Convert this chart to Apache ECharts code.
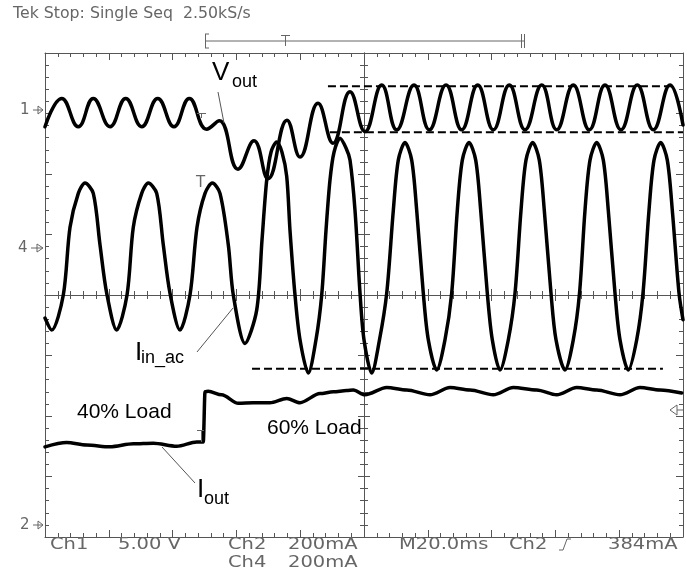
<!DOCTYPE html>
<html>
<head>
<meta charset="utf-8">
<script src="https://cdn.jsdelivr.net/npm/echarts@6/dist/echarts.min.js"></script>
<style>
  html, body { margin: 0; padding: 0; background: #fff; }
  #scope { width: 687px; height: 569px; }
</style>
</head>
<body>
<div id="scope"></div>
<script>
// Screen: 10 horizontal divisions at 20 ms/div, 8 vertical divisions (values in divisions, 0 = centre line)
const timeMin = 0, timeMax = 200, timeStep = 20;
const divMin = -4, divMax = 4;

// Ch1: output voltage ripple (Vout)
const voutTime = [0, 5.24, 10.44, 15.14, 20.38, 25.30, 30.31, 35.33, 40.44, 45.24, 50.69, 54.64,
  60.50, 65.52, 69.91, 75.86, 79.94, 85.58, 90.28, 95.61, 100.31, 105.55, 110.25, 115.68, 120.47,
  125.71, 130.63, 135.64, 140.53, 145.55, 150.47, 155.71, 160.41, 165.61, 170.63, 175.55, 180.56,
  185.67, 190.69, 195.92, 200];
const voutDiv = [2.78, 3.25, 2.78, 3.25, 2.78, 3.25, 2.78, 3.25, 2.78, 3.25, 2.74, 2.88,
  2.08, 2.55, 1.92, 2.89, 2.28, 3.17, 2.51, 3.36, 2.70, 3.47, 2.73, 3.47, 2.73,
  3.47, 2.73, 3.47, 2.73, 3.47, 2.73, 3.47, 2.73, 3.47, 2.73, 3.47, 2.73,
  3.47, 2.73, 3.47, 2.81];

// Ch4: AC input current (Iin_ac)
const iinTime = [0, 2.10, 5.74, 7.84, 10.44, 12.54, 15.14, 17.24, 19.34, 22.48,
  25.71, 27.68, 30.31, 32.38, 35.02, 37.08, 39.18, 42.32,
  45.45, 47.65, 50.16, 52.45, 54.86, 57.46, 59.03, 62.70,
  66.36, 68.03, 69.50, 70.85, 72.63, 74.29, 75.77, 76.80, 78.37, 79.94, 82.54,
  84.95, 86.74, 88.09, 89.34, 90.60, 92.48, 94.36, 95.61, 97.18, 98.75, 100.00, 102.41,
  104.86, 107.12, 109.19, 110.75, 112.85, 114.95, 116.52, 118.59, 120.16, 122.79,
  125.39, 127.49, 129.25, 130.82, 132.92, 135.02, 136.58, 138.65, 140.22, 142.63,
  145.24, 147.34, 149.22, 150.78, 152.88, 154.95, 156.52, 158.62, 160.19, 163.01,
  165.61, 167.56, 169.28, 170.85, 172.95, 175.02, 176.58, 178.68, 180.25, 182.85,
  185.49, 187.46, 189.34, 190.91, 193.01, 195.08, 196.65, 198.75, 200];
const iinDiv = [-0.38, -0.58, 0, 1.12, 1.68, 1.85, 1.68, 0.83, 0.03, -0.58,
  0, 1.12, 1.68, 1.85, 1.68, 0.83, 0.03, -0.58,
  0, 1.12, 1.68, 1.85, 1.68, 0.83, 0, -0.80,
  -0.25, 0.91, 1.90, 2.36, 2.53, 2.36, 1.96, 1.07, 0, -0.74, -1.29,
  -0.74, 0, 1.07, 1.90, 2.36, 2.59, 2.43, 2.23, 1.40, 0.03, -0.74, -1.29,
  -0.74, 0.03, 1.40, 2.23, 2.52, 2.23, 1.40, 0.03, -0.74, -1.24,
  -0.74, 0.03, 1.40, 2.23, 2.52, 2.23, 1.40, 0.03, -0.74, -1.24,
  -0.74, 0.03, 1.40, 2.23, 2.52, 2.23, 1.40, 0.03, -0.74, -1.24,
  -0.74, 0.03, 1.40, 2.23, 2.52, 2.23, 1.40, 0.03, -0.74, -1.24,
  -0.74, 0.03, 1.40, 2.23, 2.52, 2.23, 1.40, 0.03, -0.41];

// Ch2: output current (Iout), 40% -> 60% load step
const ioutTime = [0, 6.80, 13.07, 20.38, 27.68, 33.95, 41.29, 47.56, 49.62, 50.16, 51.19,
  55.39, 60.60, 65.30, 70.53, 75.77, 79.94, 86.21, 90.38, 94.58, 96.65, 100.31,
  107.12, 113.39, 120.69, 126.96, 133.23, 140.53, 146.80, 154.14, 160.41, 166.68,
  172.95, 180.25, 186.52, 192.79, 199.60];
const ioutDiv = [-2.51, -2.44, -2.48, -2.51, -2.46, -2.45, -2.50, -2.43, -2.43, -1.60, -1.59,
  -1.65, -1.79, -1.78, -1.78, -1.71, -1.78, -1.63, -1.60, -1.58, -1.57, -1.65,
  -1.53, -1.57, -1.65, -1.53, -1.57, -1.65, -1.53, -1.57, -1.65, -1.53,
  -1.57, -1.65, -1.53, -1.57, -1.62];

// Cursor (dashed) lines: [start ms, end ms, level in divisions]
const voutMaxCursor = [88.7, 197.5, 3.45];
const voutMinCursor = [89.3, 200, 2.69];
const iinMinCursor = [64.9, 193.7, -1.22];

const pairs = (t, v) => t.map((x, i) => [x, v[i]]);
const cursor = c => [[c[0], c[2]], [c[1], c[2]]];

const GRID = { left: 45, top: 53, width: 638, height: 484 };
const gridGray = '#555';
const uiGray = '#666';

function borderAxis(pos, isX) {
  return {
    type: 'value', gridIndex: 0, position: pos,
    min: isX ? timeMin : divMin, max: isX ? timeMax : divMax, interval: isX ? timeStep : 1,
    axisLine: { show: true, onZero: false, lineStyle: { color: gridGray, width: 1 } },
    axisTick: { show: true, inside: true, length: 7, lineStyle: { color: gridGray, width: 1 } },
    minorTick: { show: true, splitNumber: 5, length: 4, lineStyle: { color: gridGray, width: 1 } },
    axisLabel: { show: false }, splitLine: { show: false }
  };
}
function centreAxis(pos, isX) {
  return {
    type: 'value', gridIndex: 1, position: pos,
    min: isX ? -5 : -4, max: isX ? 5 : 4, interval: 1,
    axisLine: { show: true, onZero: true, lineStyle: { color: gridGray, width: 1 } },
    axisTick: { show: true, inside: true, length: 6, lineStyle: { color: gridGray, width: 1 } },
    minorTick: { show: true, splitNumber: 5, length: 4, lineStyle: { color: gridGray, width: 1 } },
    axisLabel: { show: false }, splitLine: { show: false }
  };
}

const trace = (name, data, smooth, mono) => ({
  name, type: 'line', xAxisIndex: 0, yAxisIndex: 0, data,
  showSymbol: false, smooth, smoothMonotone: mono || null, clip: true,
  lineStyle: { color: '#000', width: 3.5, join: 'round', cap: 'round' }, z: 5, animation: false
});
const dashed = (name, data) => ({
  name, type: 'line', xAxisIndex: 0, yAxisIndex: 0, data,
  showSymbol: false, lineStyle: { color: '#000', width: 2, type: [8, 4] }, z: 4, animation: false
});

// Scope UI text in the thin instrument font
const uiText = (text, x, y, sx) => ({
  type: 'text', x, y, scaleX: sx || 1.3, z: 20,
  style: { text, font: '15px "DejaVu Sans"', fill: uiGray, align: 'left', verticalAlign: 'middle' }
});
const ann = (text, x, y, size) => ({
  type: 'text', x, y, z: 20,
  style: { text, font: size + 'px "Liberation Sans", Arial, sans-serif', fill: '#000', align: 'left', verticalAlign: 'middle' }
});
const seg = (x1, y1, x2, y2, color, w) => ({
  type: 'line', z: 20, shape: { x1, y1, x2, y2 }, style: { stroke: color || uiGray, lineWidth: w || 1 }
});
const poly = (points, color) => ({
  type: 'polyline', z: 20, shape: { points }, style: { stroke: color || uiGray, lineWidth: 1, fill: null }
});

const chart = echarts.init(document.getElementById('scope'), null, { renderer: 'canvas' });
chart.setOption({
  animation: false,
  backgroundColor: '#fff',
  grid: [Object.assign({}, GRID), Object.assign({}, GRID)],
  xAxis: [borderAxis('bottom', true), borderAxis('top', true), centreAxis('bottom', true), centreAxis('top', true)],
  yAxis: [borderAxis('left', false), borderAxis('right', false), centreAxis('left', false), centreAxis('right', false)],
  series: [
    trace('Vout', pairs(voutTime, voutDiv), 0.45),
    trace('Iin_ac', pairs(iinTime, iinDiv), 0.3),
    trace('Iout', pairs(ioutTime, ioutDiv), 0.3, 'x'),
    dashed('Vout max', cursor(voutMaxCursor)),
    dashed('Vout min', cursor(voutMinCursor)),
    dashed('Iin min', cursor(iinMinCursor))
  ],
  graphic: [
    // header
    uiText('Tek Stop: Single Seq  2.50kS/s', 13, 14, 1.05),
    // record-length bracket with trigger position
    seg(205, 41, 524, 41),
    seg(205.5, 34, 205.5, 48), seg(205, 34, 209, 34), seg(205, 48, 209, 48),
    seg(521.5, 34, 521.5, 48), seg(524.5, 34, 524.5, 48),
    seg(281, 35.5, 290, 35.5), seg(285.5, 35, 285.5, 46),
    // channel ground markers
    uiText('1', 20, 110, 1.0), poly([[33, 110], [43, 110]]), poly([[38, 106], [43, 110], [38, 114], [38, 106]]),
    uiText('4', 18, 248, 1.0), poly([[31, 248], [43, 248]]), poly([[37, 244], [43, 248], [37, 252], [37, 244]]),
    uiText('2', 20, 525, 1.0), poly([[33, 525], [43, 525]]), poly([[38, 521], [43, 525], [38, 529], [38, 521]]),
    // trigger level marker
    poly([[670, 410], [677, 405], [677, 415], [670, 410]]), seg(677, 410, 683, 410),
    // trigger point ticks on the traces
    seg(197, 113.5, 206, 113.5), seg(201.5, 113, 201.5, 118),
    uiText('T', 196, 183, 1.0),
    seg(197, 430.5, 204, 430.5), seg(201.5, 430, 201.5, 442),
    // annotations
    ann('V', 212, 73, 26), ann('out', 232, 82, 18),
    seg(218, 92, 224, 123, '#555'),
    ann('I', 135, 353, 26), ann('in_ac', 141, 358, 18),
    seg(197, 352, 233, 308, '#555'),
    ann('I', 197, 490, 26), ann('out', 204, 499, 18),
    seg(195, 483, 162, 447, '#555'),
    ann('40% Load', 77, 412, 21),
    ann('60% Load', 267, 428, 21),
    // channel settings read-out
    uiText('Ch1', 50, 545), uiText('5.00 V', 118, 545),
    uiText('Ch2', 228, 545), uiText('200mA', 288, 545),
    uiText('Ch4', 228, 563), uiText('200mA', 288, 563),
    uiText('M20.0ms', 399, 545), uiText('Ch2', 509, 545),
    poly([[571, 539], [567, 539], [563, 550], [559, 550]]),
    uiText('384mA', 608, 545)
  ]
});
</script>
</body>
</html>
